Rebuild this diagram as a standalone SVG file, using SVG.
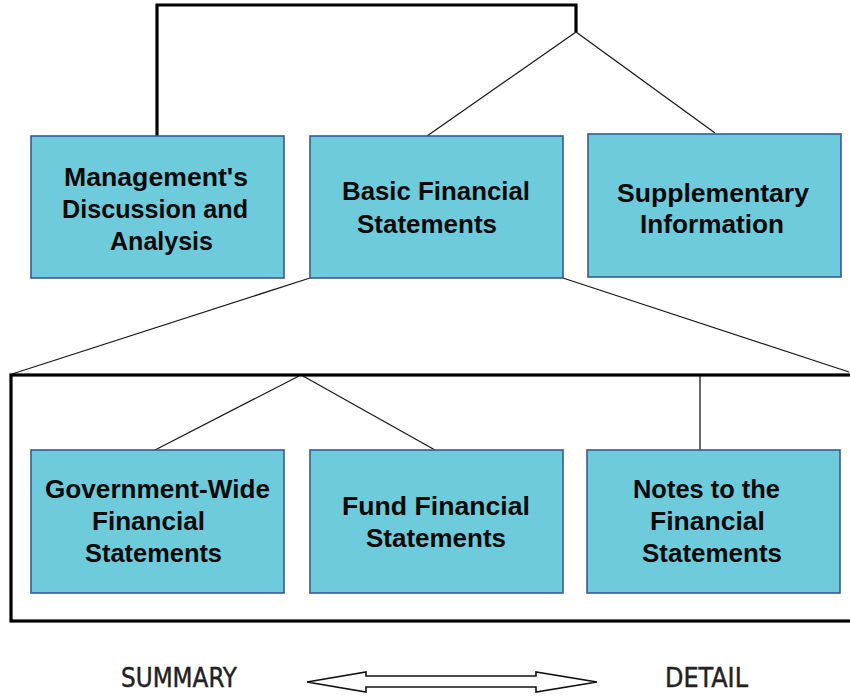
<svg xmlns="http://www.w3.org/2000/svg" width="850" height="696" viewBox="0 0 850 696">
<style>
.box{fill:#6ecbdb;stroke:#3a5896;stroke-width:1.6}
.t{font-family:"Liberation Sans",Arial,sans-serif;font-weight:bold;font-size:25px;fill:#0a0a0a}
.thick{fill:none;stroke:#000;stroke-width:3.2}
.thin{fill:none;stroke:#1a1a1a;stroke-width:1.3}
.lbl{font-family:"DejaVu Sans Condensed","Liberation Sans",Arial,sans-serif;font-size:26px;fill:#222;stroke:#222;stroke-width:0.4}
</style>
<rect width="850" height="696" fill="#fff"/>
<g id="connectors">
<polyline class="thick" points="157,136 157,5 576,5 576,32"/>
<line class="thin" x1="576" y1="32" x2="427" y2="136"/>
<line class="thin" x1="576" y1="32" x2="715" y2="133"/>
<line class="thin" x1="310" y1="278" x2="12" y2="374"/>
<line class="thin" x1="563" y1="278" x2="849" y2="372"/>
<line class="thin" x1="299" y1="376" x2="155" y2="450"/>
<line class="thin" x1="303" y1="376" x2="435" y2="450"/>
<line class="thin" x1="700" y1="376" x2="700" y2="450"/>
</g>
<g id="group-frame">
<rect class="thick" x="11" y="375" width="845" height="246"/>
</g>
<g id="mda">
<rect class="box" x="31" y="136" width="253" height="142"/>
<text class="t" x="64" y="186" textLength="184" lengthAdjust="spacingAndGlyphs">Management's</text>
<text class="t" x="62" y="218" textLength="186" lengthAdjust="spacingAndGlyphs">Discussion and</text>
<text class="t" x="110" y="250" textLength="103" lengthAdjust="spacingAndGlyphs">Analysis</text>
</g>
<g id="bfs">
<rect class="box" x="310" y="136" width="253" height="142"/>
<text class="t" x="342" y="200" textLength="188" lengthAdjust="spacingAndGlyphs">Basic Financial</text>
<text class="t" x="357" y="233" textLength="140" lengthAdjust="spacingAndGlyphs">Statements</text>
</g>
<g id="supp">
<rect class="box" x="588" y="134" width="253" height="143"/>
<text class="t" x="617" y="202" textLength="192" lengthAdjust="spacingAndGlyphs">Supplementary</text>
<text class="t" x="640" y="233" textLength="144" lengthAdjust="spacingAndGlyphs">Information</text>
</g>
<g id="gwfs">
<rect class="box" x="31" y="450" width="253" height="143"/>
<text class="t" x="45" y="498" textLength="225" lengthAdjust="spacingAndGlyphs">Government-Wide</text>
<text class="t" x="92" y="530" textLength="113" lengthAdjust="spacingAndGlyphs">Financial</text>
<text class="t" x="85" y="562" textLength="137" lengthAdjust="spacingAndGlyphs">Statements</text>
</g>
<g id="ffs">
<rect class="box" x="310" y="450" width="253" height="143"/>
<text class="t" x="342" y="515" textLength="188" lengthAdjust="spacingAndGlyphs">Fund Financial</text>
<text class="t" x="366" y="547" textLength="140" lengthAdjust="spacingAndGlyphs">Statements</text>
</g>
<g id="notes">
<rect class="box" x="587" y="450" width="253" height="143"/>
<text class="t" x="633" y="498" textLength="147" lengthAdjust="spacingAndGlyphs">Notes to the</text>
<text class="t" x="650" y="530" textLength="115" lengthAdjust="spacingAndGlyphs">Financial</text>
<text class="t" x="642" y="562" textLength="140" lengthAdjust="spacingAndGlyphs">Statements</text>
</g>
<g id="scale">
<text class="lbl" x="121" y="687" textLength="116" lengthAdjust="spacingAndGlyphs">SUMMARY</text>
<polygon points="307,682 366,672 366,676 536,676 536,672 597,682 536,692 536,687 366,687 366,692" fill="#fff" stroke="#111" stroke-width="1.6" stroke-linejoin="miter"/>
<text class="lbl" x="665" y="687" textLength="83" lengthAdjust="spacingAndGlyphs">DETAIL</text>
</g>
</svg>
